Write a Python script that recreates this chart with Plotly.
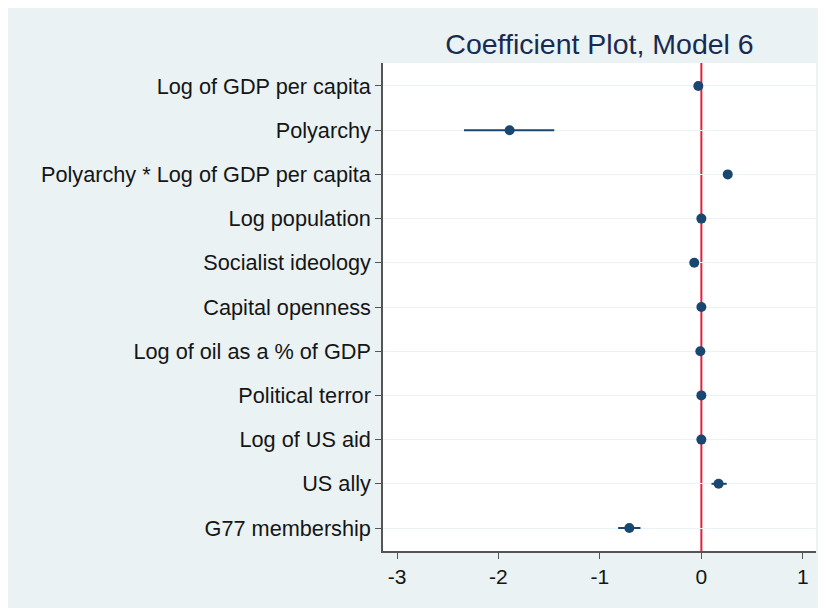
import plotly.graph_objects as go

# Variáveis e coeficientes (Modelo 6)
variaveis = [
    "Log of GDP per capita",
    "Polyarchy",
    "Polyarchy * Log of GDP per capita",
    "Log population",
    "Socialist ideology",
    "Capital openness",
    "Log of oil as a % of GDP",
    "Political terror",
    "Log of US aid",
    "US ally",
    "G77 membership",
]
coeficientes = [-0.03, -1.89, 0.26, 0.0, -0.07, 0.0, -0.01, 0.0, 0.0, 0.17, -0.71]
ic_inferior = [-0.05, -2.34, 0.23, -0.01, -0.09, -0.01, -0.02, -0.01, -0.01, 0.10, -0.82]
ic_superior = [-0.01, -1.45, 0.30, 0.01, -0.05, 0.01, 0.00, 0.01, 0.01, 0.25, -0.60]
ticks_x = [-3, -2, -1, 0, 1]
rotulos_x = ["-3", "-2", "-1", "0", "1"]

posicoes = list(range(1, len(variaveis) + 1))
erro_mais = [s - c for s, c in zip(ic_superior, coeficientes)]
erro_menos = [c - i for c, i in zip(coeficientes, ic_inferior)]

NAVY = "#1a476f"
FUNDO = "#eaf2f3"

fig = go.Figure()

# Linha de referência em zero
fig.add_vline(x=0, line=dict(color="#e0233c", width=2), layer="below")

fig.add_trace(go.Scatter(
    x=coeficientes,
    y=posicoes,
    mode="markers",
    marker=dict(color=NAVY, size=10),
    error_x=dict(
        type="data",
        symmetric=False,
        array=erro_mais,
        arrayminus=erro_menos,
        color=NAVY,
        thickness=2,
        width=0,
    ),
    showlegend=False,
))

fig.update_layout(
    width=818,
    height=600,
    margin=dict(l=375, r=10, t=55, b=57),
    paper_bgcolor=FUNDO,
    plot_bgcolor="white",
    font=dict(family="Liberation Sans, Arial, sans-serif", size=21.7, color="#151515"),
    title=dict(
        text="Coefficient Plot, Model 6",
        font=dict(size=28.5, color="#1a2a50"),
        x=0.5,
        xref="paper",
        xanchor="center",
        y=1,
        yref="paper",
        yanchor="bottom",
        pad=dict(b=9),
    ),
)

fig.update_xaxes(
    range=[-3.138, 1.13],
    tickvals=ticks_x,
    ticktext=rotulos_x,
    showgrid=False,
    zeroline=False,
    showline=True,
    linecolor="#555555",
    linewidth=1.5,
    ticks="outside",
    ticklen=6,
    tickcolor="#555555",
    tickfont=dict(size=21),
)

fig.update_yaxes(
    range=[11.52, 0.48],
    tickvals=posicoes,
    ticktext=variaveis,
    showgrid=True,
    gridcolor=FUNDO,
    gridwidth=1,
    zeroline=False,
    showline=True,
    linecolor="#555555",
    linewidth=1.5,
    ticks="outside",
    ticklen=6,
    tickcolor="#555555",
    tickfont=dict(size=21.7),
)

fig.write_html("out.html")
